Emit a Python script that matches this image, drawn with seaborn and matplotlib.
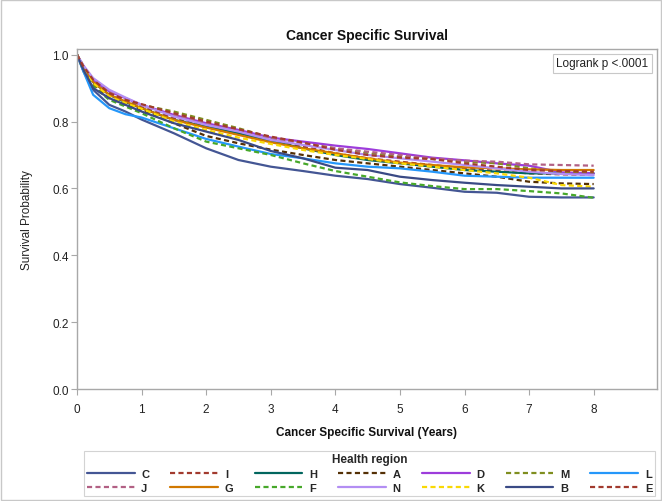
import numpy as np
import pandas as pd
import matplotlib
matplotlib.use("Agg")
import matplotlib.pyplot as plt
import matplotlib.patches as mpatches
import seaborn as sns

# ---- data ----
times = [0, 0.1, 0.25, 0.5, 0.75, 1, 1.5, 2, 2.5, 3, 3.5, 4, 4.5, 5, 5.5, 6, 6.5, 7, 7.5, 8]

surv_C = [1, .950, .895, .850, .830, .806, .765, .720, .685, .665, .652, .638, .628, .613, .602, .590, .587, .575, .573, .573]
surv_I = [1, .962, .918, .880, .860, .845, .810, .785, .765, .745, .725, .705, .690, .680, .670, .660, .652, .645, .642, .640]
surv_H = [1, .962, .918, .880, .858, .840, .805, .785, .765, .742, .720, .700, .685, .675, .665, .655, .650, .645, .645, .645]
surv_A = [1, .960, .912, .870, .850, .835, .795, .757, .735, .716, .700, .685, .675, .665, .655, .645, .635, .620, .615, .613]
surv_D = [1, .965, .925, .890, .870, .850, .820, .795, .775, .752, .740, .728, .718, .705, .692, .684, .675, .668, .648, .645]
surv_M = [1, .965, .922, .885, .865, .850, .830, .805, .780, .752, .735, .720, .705, .695, .688, .680, .675, .660, .650, .648]
surv_L = [1, .950, .880, .840, .822, .812, .780, .748, .725, .703, .690, .675, .665, .660, .650, .638, .635, .632, .632, .632]
surv_J = [1, .965, .925, .890, .868, .848, .820, .795, .772, .750, .735, .720, .710, .700, .690, .683, .680, .672, .670, .668]
surv_G = [1, .962, .918, .880, .860, .840, .805, .782, .760, .738, .720, .705, .690, .677, .670, .663, .660, .657, .655, .655]
surv_F = [1, .955, .905, .865, .845, .825, .780, .740, .720, .700, .675, .652, .635, .618, .607, .598, .598, .592, .585, .572]
surv_N = [1, .968, .930, .895, .872, .850, .815, .790, .770, .745, .730, .715, .700, .690, .680, .670, .660, .650, .643, .640]
surv_K = [1, .962, .915, .875, .855, .838, .800, .775, .752, .733, .715, .700, .688, .675, .665, .655, .645, .632, .610, .605]
surv_B = [1, .955, .900, .870, .850, .830, .795, .770, .745, .712, .690, .662, .655, .635, .625, .617, .610, .605, .600, .600]
surv_E = [1, .965, .925, .885, .865, .852, .825, .800, .777, .755, .737, .716, .700, .692, .688, .675, .665, .655, .652, .650]

regions = ["C", "I", "H", "A", "D", "M", "L", "J", "G", "F", "N", "K", "B", "E"]
series = {"C": surv_C, "I": surv_I, "H": surv_H, "A": surv_A, "D": surv_D, "M": surv_M,
          "L": surv_L, "J": surv_J, "G": surv_G, "F": surv_F, "N": surv_N, "K": surv_K,
          "B": surv_B, "E": surv_E}

x_ticks = [0, 1, 2, 3, 4, 5, 6, 7, 8]
y_ticks = [0.0, 0.2, 0.4, 0.6, 0.8, 1.0]

# ---- styles ----
colors = {"C": "#445694", "I": "#A23A2E", "H": "#01665E", "A": "#543005", "D": "#9D3CDB",
          "M": "#7F8E1F", "L": "#2597FA", "J": "#B26084", "G": "#D17800", "F": "#47A82A",
          "N": "#B38EF3", "K": "#F9D904", "B": "#3A4A85", "E": "#A23A2E"}
dash = (2.3, 1.5)
dashes = {r: ("" if i % 2 == 0 else dash) for i, r in enumerate(regions)}

df = pd.DataFrame([
    {"time": t, "surv": s, "region": r}
    for r in regions for t, s in zip(times, series[r])
])

sns.set_theme(style="ticks")
plt.rcParams["font.family"] = ["Liberation Sans", "DejaVu Sans"]

fig = plt.figure(figsize=(6.62, 5.02), dpi=100)
ax = fig.add_axes([0.1163, 0.2231, 0.8761, 0.6773])

sns.lineplot(data=df, x="time", y="surv", hue="region", style="region",
             hue_order=regions, style_order=regions, palette=colors, dashes=dashes,
             estimator=None, linewidth=1.6, ax=ax)

handles, labels = ax.get_legend_handles_labels()
ax.get_legend().remove()
hmap = dict(zip(labels, handles))

ax.set_xlim(0, 8.98)
ax.set_ylim(0, 1.017)
ax.set_xticks(x_ticks)
ax.set_xticklabels([str(v) for v in x_ticks])
ax.set_yticks(y_ticks)
ax.set_yticklabels([f"{v:.1f}" for v in y_ticks])

spine_col = "#a8a8a8"
for sp in ax.spines.values():
    sp.set_visible(True)
    sp.set_color(spine_col)
    sp.set_linewidth(1.0)
ax.tick_params(axis="both", which="major", direction="out", length=4, width=0.8,
               color=spine_col, labelsize=8.5, labelcolor="#222222", pad=2)
ax.tick_params(axis="x", pad=6)

ax.set_xlabel("Cancer Specific Survival (Years)", fontsize=8.5, fontweight="bold",
              color="#111111", labelpad=8)
ax.set_ylabel("Survival Probability", fontsize=8.5, color="#222222", labelpad=14)
ax.set_title("Cancer Specific Survival", fontsize=10, fontweight="bold",
             color="#111111", pad=7)

ax.text(0.985, 0.975, "Logrank p <.0001", transform=ax.transAxes, ha="right", va="top",
        fontsize=8.5, color="#222222",
        bbox=dict(boxstyle="square,pad=0.3", facecolor="white", edgecolor="#c8c8c8", linewidth=0.8))

order = []
for c in range(7):
    order.append(regions[c])
    order.append(regions[c + 7])
leg = fig.legend([hmap[r] for r in order], order, loc="lower left",
                 bbox_to_anchor=(0.1269, 0.010, 0.8625, 0.092), mode="expand",
                 borderaxespad=0.0,
                 ncol=7, title="Health region", frameon=True, fancybox=False,
                 edgecolor="#c8c8c8", handlelength=4.3, handletextpad=0.6,
                 columnspacing=0.9, labelspacing=0.35, borderpad=0.25,
                 prop={"weight": "bold", "size": 8})
leg.get_title().set_fontweight("bold")
leg.get_title().set_fontsize(8.5)
leg.get_frame().set_linewidth(0.8)
for line in leg.get_lines():
    line.set_linewidth(1.6)

fig.patches.append(mpatches.Rectangle((0.001, 0.001), 0.998, 0.998, transform=fig.transFigure,
                                      fill=False, edgecolor="#c8c8c8", linewidth=1.0))

fig.savefig("out.png", dpi=100, facecolor="white")
